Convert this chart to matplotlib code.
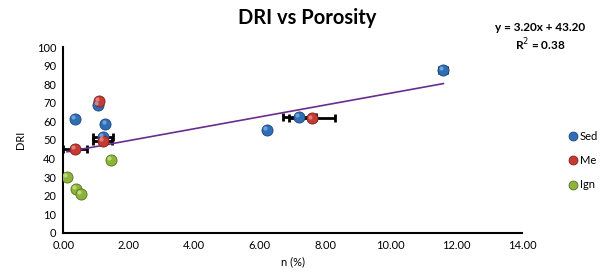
import numpy as np
import matplotlib.pyplot as plt

plt.rcParams['font.family'] = ['Lato', 'DejaVu Sans']

# donnees
sed_n = [0.36, 1.05, 1.29, 1.22, 6.23, 7.2, 11.6]
sed_dri = [61.2, 68.8, 58.7, 51.7, 55.3, 62.5, 87.5]
sed_err = [0, 0, 0, 0.3, 0, 0.5, 0.12]

met_n = [1.09, 1.2, 0.36, 7.6]
met_dri = [71.1, 49.4, 44.9, 61.6]
met_err = [0, 0.3, 0.37, 0.7]

ign_n = [1.45, 0.12, 0.39, 0.53]
ign_dri = [39.3, 30.2, 23.7, 20.7]

# legende coupee au bord dans l'original
labels = ['Sed', 'Me', 'Ign']

slope, intercept = 3.20, 43.20
r2 = 0.38

fig = plt.figure(figsize=(6.02, 2.77), dpi=100)
ax = fig.add_axes([0.105, 0.16, 0.762, 0.67])

# barres d'erreur en n
ax.errorbar(sed_n, sed_dri, xerr=sed_err, fmt='none', ecolor='black',
            elinewidth=2, capsize=3, capthick=2, zorder=2)
ax.errorbar(met_n, met_dri, xerr=met_err, fmt='none', ecolor='black',
            elinewidth=2, capsize=3, capthick=2, zorder=2)

# droite de tendance
all_n = sed_n + met_n + ign_n
xs = np.array([min(all_n), max(all_n)])
ax.plot(xs, slope * xs + intercept, color='#6a2c91', lw=1.2, zorder=3)

series = [
    (sed_n, sed_dri, '#2f6db5', '#1c4580', '#8fb8e8'),
    (met_n, met_dri, '#c63a34', '#7e1f1b', '#ee9d98'),
    (ign_n, ign_dri, '#8cb43a', '#56721f', '#d2ea9c'),
]
handles = []
for (x, y, c, ec, hl), lab in zip(series, labels):
    h, = ax.plot(x, y, 'o', ms=8, mfc=c, mec=ec, mew=0.6, ls='none',
                 zorder=4, label=lab)
    ax.plot(np.array(x) - 0.06, np.array(y) + 1.0, 'o', ms=3, mfc=hl,
            mec='none', alpha=0.7, zorder=5)
    handles.append(h)

ax.set_xlim(0, 14)
ax.set_ylim(0, 100)
ax.set_xticks(np.arange(0, 15, 2))
ax.set_xticklabels(['%.2f' % v for v in np.arange(0, 15, 2)])
ax.set_yticks(np.arange(0, 101, 10))
ax.tick_params(length=0, labelsize=8, pad=5)
for s in ['top', 'right']:
    ax.spines[s].set_visible(False)
for s in ['left', 'bottom']:
    ax.spines[s].set_linewidth(1.5)

ax.set_xlabel('n (%)', fontsize=8, labelpad=4)
ax.set_ylabel('DRI', fontsize=8, labelpad=8)
fig.text(0.51, 0.935, 'DRI vs Porosity', ha='center', va='center',
         fontsize=14.5, fontweight='bold')
fig.text(0.897, 0.865, 'y = 3.20x + 43.20\nR$^2$ = 0.38', ha='center',
         va='center', fontsize=8.5, fontweight='bold', linespacing=1.3)

fig.legend(handles=handles, loc='center left',
           bbox_to_anchor=(0.93, 0.42), frameon=False, fontsize=8,
           handlelength=0.6, handletextpad=0.3, labelspacing=1.2,
           markerscale=0.8)

fig.savefig('out.png', dpi=100)
